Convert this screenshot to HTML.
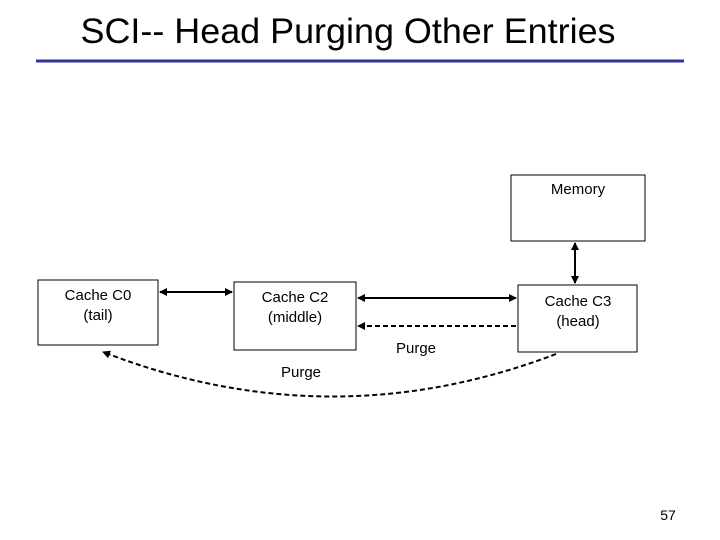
<!DOCTYPE html>
<html><head><style>
body{margin:0;background:#fff;}
svg{display:block;font-family:"Liberation Sans",sans-serif;}
</style></head><body>
<svg width="720" height="540" viewBox="0 0 720 540">
<defs>
<marker id="a" markerWidth="8" markerHeight="8" refX="7" refY="4" orient="auto-start-reverse" markerUnits="userSpaceOnUse"><path d="M0,0 L8,4 L0,8 z" fill="#000"/></marker>
</defs>
<text x="348" y="43" font-size="35" text-anchor="middle" fill="#000" textLength="535" lengthAdjust="spacingAndGlyphs">SCI-- Head Purging Other Entries</text>
<line x1="36" y1="61" x2="684" y2="61" stroke="#333399" stroke-width="3"/>
<g fill="#fff" stroke="#000" stroke-width="1">
<rect x="511" y="175" width="134" height="66"/>
<rect x="38" y="280" width="120" height="65"/>
<rect x="234" y="282" width="122" height="68"/>
<rect x="518" y="285" width="119" height="67"/>
</g>
<g font-size="15" text-anchor="middle" fill="#000">
<text x="578" y="194">Memory</text>
<text x="98" y="300">Cache C0</text><text x="98" y="320">(tail)</text>
<text x="295" y="302">Cache C2</text><text x="295" y="322">(middle)</text>
<text x="578" y="306">Cache C3</text><text x="578" y="326">(head)</text>
<text x="416" y="353">Purge</text>
<text x="301" y="377">Purge</text>
<text x="668" y="520" font-size="14">57</text>
</g>
<g stroke="#000" stroke-width="2" fill="none">
<line x1="160" y1="292" x2="232" y2="292" marker-start="url(#a)" marker-end="url(#a)"/>
<line x1="358" y1="298" x2="516" y2="298" marker-start="url(#a)" marker-end="url(#a)"/>
<line x1="575" y1="243" x2="575" y2="283" marker-start="url(#a)" marker-end="url(#a)"/>
<line x1="516" y1="326" x2="358" y2="326" stroke-dasharray="5,3" marker-end="url(#a)"/>
<path d="M556,354 Q330,440 103,352" stroke-dasharray="5,3" marker-end="url(#a)"/>
</g>
</svg>
</body></html>
